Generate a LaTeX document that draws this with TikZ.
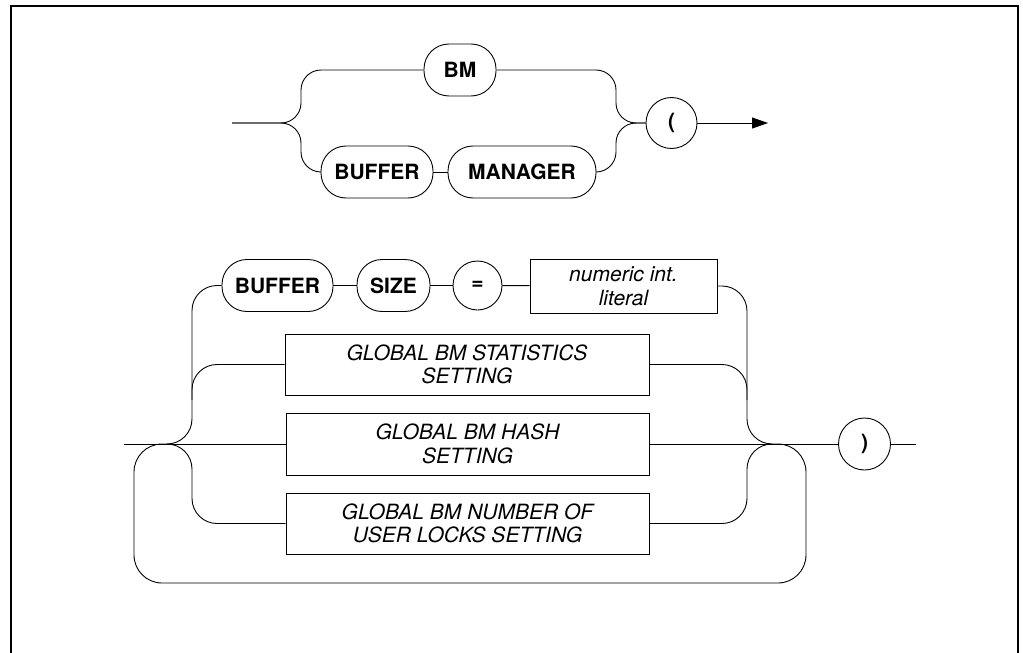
\documentclass[tikz,border=0pt]{standalone}
\usepackage{fontspec}
\setmainfont{TeX Gyre Heros}
\usetikzlibrary{arrows.meta}

\tikzset{
  rail/.style={line width=0.9pt, draw=black},
  rc/.style={rail, rounded corners=25pt},
  rct/.style={rail, rounded corners=20pt},
  term/.style={draw=black, line width=0.9pt, rectangle, inner sep=0pt,
    font=\bfseries\fontsize{21}{23.5}\selectfont},
  pill/.style={term, rounded corners=25pt, minimum height=52pt},
  disc/.style={term, circle, minimum size=#1},
  nonterm/.style={draw=black, line width=0.9pt, rectangle, inner sep=0pt,
    align=center, font=\itshape\fontsize{21}{23.5}\selectfont},
  frame/.style={line width=1.5pt, draw=black}
}

\begin{document}
\begin{tikzpicture}[x=1pt, y=-1pt]
\useasboundingbox (0,0) rectangle (1023,653);

% page frame, open at the bottom
\draw[frame] (11,653) -- (11,6) -- (1018,6) -- (1018,653);

% ---------- first rule: BM | BUFFER MANAGER, then "(" ----------
\node[pill, minimum width=72pt]  (bm)   at (460,70)    {BM};
\node[pill, minimum width=112pt] (buf1) at (377,172)   {BUFFER};
\node[pill, minimum width=148pt] (mgr)  at (522,172)   {MANAGER};
\node[disc=51pt]                 (lp)   at (671.5,123) {(};

\coordinate (tin)  at (232,123);
\coordinate (tL)   at (301,123);
\coordinate (tR)   at (616,123);
\coordinate (tout) at (768,123);

\draw[rct] (tin) -| (tL |- bm.west) -- (bm.west);
\draw[rct] (tin) -| (tL |- buf1.west) -- (buf1.west);
\draw[rail] (buf1) -- (mgr);
\draw[rct] (bm.east) -| (tR) -- (lp.west);
\draw[rct] (mgr.east) -| (tR) -- (lp.west);
\draw[rail, -{Triangle[length=16pt, width=11pt]}] (lp.east) -- (tout);

% ---------- second rule: option list, repeatable, then ")" ----------
\node[pill, minimum width=111pt] (buf2) at (277.5,285.5) {BUFFER};
\node[pill, minimum width=73pt]  (size) at (393.5,285.5) {SIZE};
\node[disc=49pt]                 (eq)   at (477.5,285.5) {=};
\node[nonterm, minimum width=187pt, minimum height=54pt] (lit) at (623.5,286)
  {numeric int.\\literal};
\node[nonterm, minimum width=364pt, minimum height=61pt] (stat) at (467,364.5)
  {GLOBAL BM STATISTICS\\SETTING};
\node[nonterm, minimum width=363pt, minimum height=62pt] (hash) at (467.5,444)
  {GLOBAL BM HASH\\SETTING};
\node[nonterm, minimum width=363pt, minimum height=61pt] (locks) at (467.5,523.5)
  {GLOBAL BM NUMBER OF\\USER LOCKS SETTING};
\node[disc=52pt]                 (rp)   at (864.5,444) {)};

\coordinate (bin)   at (124,444);
\coordinate (mL)    at (167,444);
\coordinate (vL)    at (192,444);
\coordinate (vLs)   at (192,400);
\coordinate (vR)    at (747,444);
\coordinate (vRs)   at (747,400);
\coordinate (mR)    at (772,444);
\coordinate (loopR) at (806,583);
\coordinate (loopL) at (134,444);
\coordinate (bout)  at (916,444);

% main line
\draw[rail] (bin) -- (hash.west);
\draw[rail] (hash.east) -- (rp.west);
\draw[rail] (rp.east) -- (bout);

% BUFFER SIZE = literal
\draw[rc] (mL) -| (vL |- buf2.west) -- (buf2.west);
\draw[rail] (buf2) -- (size);
\draw[rail] (size) -- (eq);
\draw[rail] (eq) -- (lit);
\draw[rc] (lit.east) -| (vR) -- (mR);

% statistics setting
\draw[rc] (vLs) |- (stat.west);
\draw[rc] (stat.east) -| (vRs);

% number of user locks setting
\draw[rc] (mL) -| (vL |- locks.west) -- (locks.west);
\draw[rc] (locks.east) -| (vR) -- (mR);

% repetition loop
\draw[rail, rounded corners=28pt] (mR) -| (loopR) -| (loopL) -- (mL);

\end{tikzpicture}
\end{document}
